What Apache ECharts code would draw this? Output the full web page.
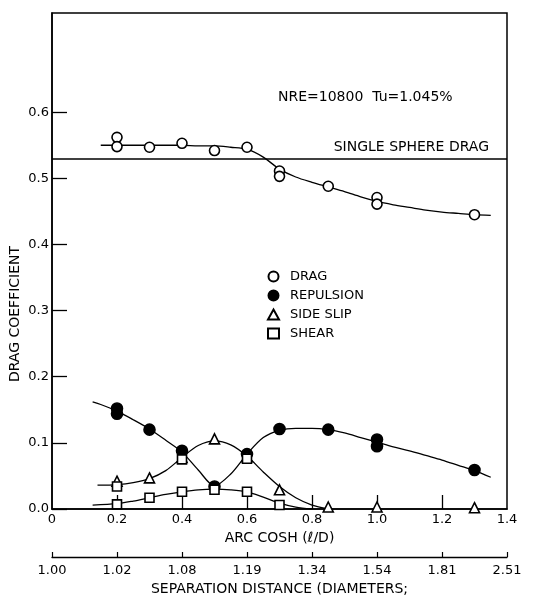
<!DOCTYPE html>
<html>
<head>
<meta charset="utf-8">
<script src="https://cdn.jsdelivr.net/npm/echarts@6/dist/echarts.min.js"></script>
<style>html,body{margin:0;padding:0;background:#fff}#c{width:533px;height:598px}</style>
</head>
<body>
<div id="c"></div>
<script>
// ---- data ----
const xTicks = [0, 0.2, 0.4, 0.6, 0.8, 1.0, 1.2, 1.4];
const sepLabels = ['1.00', '1.02', '1.08', '1.19', '1.34', '1.54', '1.81', '2.51'];
const yTicks = [0, 0.1, 0.2, 0.3, 0.4, 0.5, 0.6];
const singleSphereDrag = 0.53;

const dragPts = [[0.2,0.562],[0.2,0.548],[0.3,0.547],[0.4,0.553],[0.5,0.542],[0.6,0.547],[0.7,0.511],[0.7,0.503],[0.85,0.488],[1.0,0.471],[1.0,0.461],[1.3,0.445]];
const repulsionPts = [[0.2,0.152],[0.2,0.144],[0.3,0.120],[0.4,0.088],[0.5,0.034],[0.6,0.083],[0.7,0.121],[0.85,0.120],[1.0,0.105],[1.0,0.095],[1.3,0.059]];
const sideSlipPts = [[0.2,0.042],[0.3,0.047],[0.4,0.078],[0.5,0.106],[0.6,0.079],[0.7,0.029],[0.85,0.003],[1.0,0.003],[1.3,0.002]];
const shearPts = [[0.2,0.007],[0.2,0.034],[0.3,0.017],[0.4,0.026],[0.4,0.075],[0.5,0.029],[0.6,0.026],[0.6,0.076],[0.7,0.006]];

// fitted curves as drawn in the reference
const dragFit = [[0.15,0.550],[0.2,0.550],[0.25,0.550],[0.3,0.550],[0.35,0.550],[0.4,0.550],[0.45,0.549],[0.5,0.549],[0.55,0.547],[0.6,0.544],[0.65,0.532],[0.7,0.514],[0.75,0.502],[0.8,0.494],[0.85,0.487],[0.9,0.480],[0.95,0.472],[1.0,0.465],[1.05,0.460],[1.1,0.456],[1.15,0.452],[1.2,0.449],[1.25,0.447],[1.3,0.445],[1.35,0.444]];
const repulsionFit = [[0.125,0.162],[0.15,0.158],[0.2,0.148],[0.25,0.135],[0.3,0.121],[0.35,0.104],[0.4,0.086],[0.45,0.059],[0.5,0.035],[0.55,0.053],[0.6,0.083],[0.65,0.108],[0.7,0.119],[0.75,0.122],[0.8,0.122],[0.85,0.120],[0.9,0.115],[0.95,0.108],[1.0,0.101],[1.05,0.094],[1.1,0.088],[1.15,0.081],[1.2,0.074],[1.25,0.066],[1.3,0.058],[1.35,0.048]];
const sideSlipFit = [[0.14,0.036],[0.2,0.037],[0.25,0.040],[0.3,0.046],[0.35,0.058],[0.4,0.078],[0.45,0.096],[0.5,0.103],[0.55,0.097],[0.6,0.080],[0.65,0.056],[0.7,0.034],[0.75,0.017],[0.8,0.006],[0.85,0.0]];
const shearFit = [[0.125,0.006],[0.2,0.008],[0.25,0.012],[0.3,0.017],[0.35,0.022],[0.4,0.026],[0.45,0.029],[0.5,0.030],[0.55,0.029],[0.6,0.026],[0.65,0.018],[0.7,0.009],[0.75,0.003],[0.8,0.0]];

const annotation = 'NRE=10800  Tu=1.045%';

// ---- chart ----
const FONT = 'DejaVu Sans';
const chart = echarts.init(document.getElementById('c'));
const fitLine = (name, data) => ({
  name: name, type: 'line', data: data, smooth: 0.3,
  symbol: 'none', silent: true, z: 2,
  lineStyle: { color: '#000', width: 1.3 }
});
const scatter = (name, data, symbol, fill, size) => ({
  name: name, type: 'scatter', data: data, symbol: symbol, symbolSize: size, z: 5,
  itemStyle: { color: fill, opacity: 1, borderColor: '#000', borderWidth: 1.6 }
});

chart.setOption({
  animation: false,
  backgroundColor: '#fff',
  textStyle: { fontFamily: FONT, color: '#000' },
  grid: { left: 52, right: 26, top: 13, bottom: 89, outerBoundsMode: 'none', containLabel: false,
    show: true, borderColor: '#000', borderWidth: 1.5, backgroundColor: 'transparent' },
  legend: {
    data: ['DRAG', 'REPULSION', 'SIDE SLIP', 'SHEAR'],
    orient: 'vertical', left: 262, top: 265, itemWidth: 11, itemHeight: 10, itemGap: 6,
    textStyle: { fontFamily: FONT, fontSize: 13, color: '#000', padding: [0, 0, 0, 6] }
  },
  xAxis: [{
    type: 'value', min: 0, max: 1.4, interval: 0.2,
    axisLine: { show: true, lineStyle: { color: '#000', width: 1.5 } },
    axisTick: { show: true, inside: true, length: 14, customValues: [0.2, 0.4, 0.6, 0.8, 1.0, 1.2], lineStyle: { color: '#000', width: 1.3 } },
    axisLabel: { customValues: xTicks, margin: 4, fontSize: 13, fontFamily: FONT, color: '#000',
      formatter: v => (Math.abs(v) < 1e-9 ? '0' : v.toFixed(1)) },
    splitLine: { show: false },
    name: 'ARC COSH (\u2113/D)', nameLocation: 'middle', nameGap: 22,
    nameTextStyle: { fontSize: 14, fontFamily: FONT, color: '#000' }
  }, {
    type: 'value', min: 0, max: 1.4, interval: 0.2, position: 'bottom', offset: 48,
    axisLine: { show: true, lineStyle: { color: '#000', width: 1.3 } },
    axisTick: { show: true, inside: true, length: 5, customValues: xTicks, lineStyle: { color: '#000', width: 1.2 } },
    axisLabel: { customValues: xTicks, margin: 7, fontSize: 13, fontFamily: FONT, color: '#000',
      formatter: v => sepLabels[Math.round(v / 0.2)] },
    splitLine: { show: false },
    name: 'SEPARATION DISTANCE (DIAMETERS;', nameLocation: 'middle', nameGap: 25,
    nameTextStyle: { fontSize: 14, fontFamily: FONT, color: '#000' }
  }],
  yAxis: {
    type: 'value', min: 0, max: 0.75, interval: 0.1,
    axisLine: { show: true, lineStyle: { color: '#000', width: 1.5 } },
    axisTick: { show: true, inside: true, length: 15, customValues: yTicks, lineStyle: { color: '#000', width: 1.3 } },
    axisLabel: { customValues: yTicks, margin: 3, fontSize: 13, fontFamily: FONT, color: '#000',
      formatter: v => v.toFixed(1) },
    splitLine: { show: false }
  },
  graphic: [
    { type: 'text', left: 278, top: 90, style: { text: annotation, fontFamily: FONT, fontSize: 14, fill: '#000' } },
    { type: 'text', x: 15, y: 314, rotation: Math.PI / 2,
      style: { text: 'DRAG COEFFICIENT', fontFamily: FONT, fontSize: 14, fill: '#000', align: 'center', verticalAlign: 'middle' } }
  ],
  series: [
    fitLine('dragFit', dragFit),
    fitLine('repulsionFit', repulsionFit),
    fitLine('sideSlipFit', sideSlipFit),
    fitLine('shearFit', shearFit),
    Object.assign(scatter('DRAG', dragPts, 'circle', '#fff', 10), {
      markLine: {
        silent: true, symbol: 'none', animation: false,
        lineStyle: { color: '#000', width: 1.5, type: 'solid' },
        label: { show: true, position: 'insideEndTop', distance: [18, 4], formatter: 'SINGLE SPHERE DRAG',
          fontFamily: FONT, fontSize: 14, color: '#000' },
        data: [{ yAxis: singleSphereDrag }]
      }
    }),
    scatter('REPULSION', repulsionPts, 'circle', '#000', 11),
    scatter('SIDE SLIP', sideSlipPts, 'triangle', '#fff', 10),
    scatter('SHEAR', shearPts, 'rect', '#fff', 9)
  ]
});
</script>
</body>
</html>
